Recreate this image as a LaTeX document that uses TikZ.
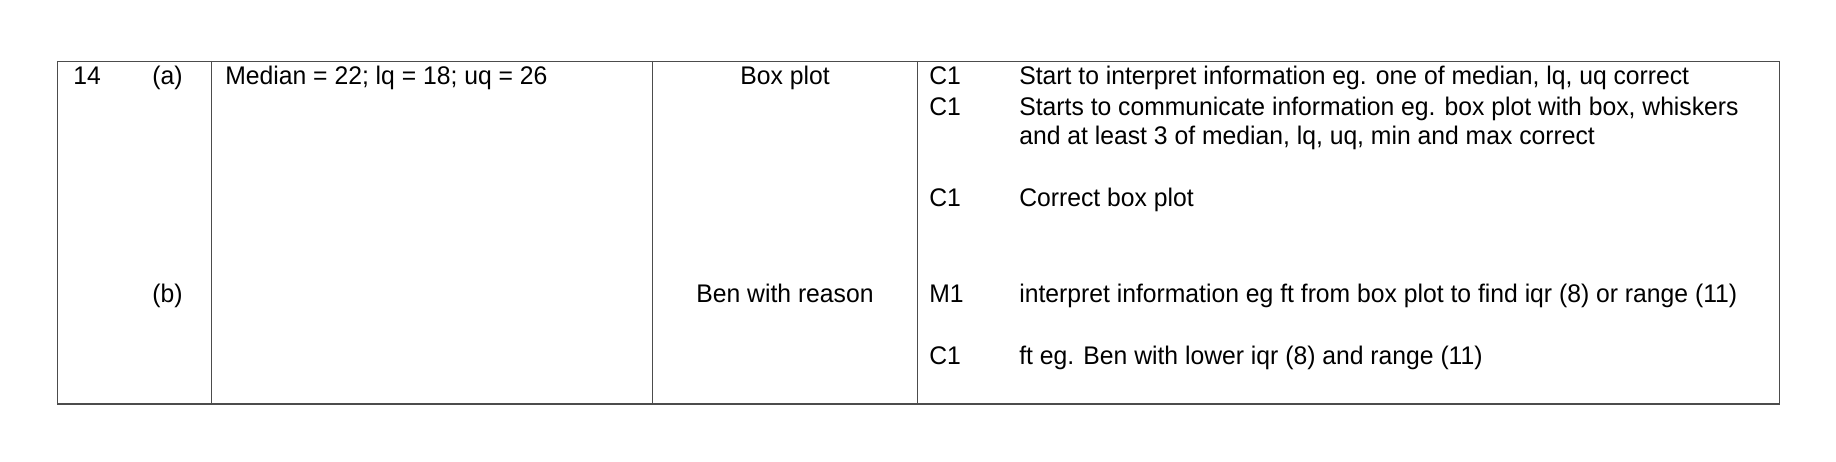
\documentclass[tikz,border=0pt]{standalone}
\usepackage{fontspec}
\setmainfont{Liberation Sans}[FakeStretch=0.97]
\begin{document}
\begin{tikzpicture}[x=0.02cm,y=-0.02cm]
        \tikzset{every node/.style={inner sep=0pt,anchor=base west,font=\fontsize{14.5pt}{17pt}\selectfont},
          rule/.style={draw=black!70,line width=0.5pt}}
        \useasboundingbox (0,0) rectangle (1836,462);
        % frame and column rules
        \draw [rule] (57,61) rectangle (1779,404);
        \draw [rule,line width=1pt] (57,404) -- (1779,404);
        \foreach \xc in {211,652,917}
          \draw [rule] (\xc,61) -- (\xc,404);
        % question and part labels
        \node (q) at (73,85) {14};
        \node (pa) at (152,85) {(a)};
        \node (pb) at (152,303) {(b)};
        \node (ans) at (225,85) {Median = 22; lq = 18; uq = 26};
        \node [anchor=base] (bp) at (785,85) {Box plot};
        \node [anchor=base] (ben) at (785,303) {Ben with reason};
        % marks
        \node (m1) at (929,85) {C1};
        \node (m2) at (929,116) {C1};
        \node (m3) at (929,207) {C1};
        \node (m4) at (929,303) {M1};
        \node (m5) at (929,365) {C1};
        \node (t1) at (1019,85) {Start to interpret information eg. one of median, lq, uq correct};
        \node (t2) at (1019,116) {Starts to communicate information eg. box plot with box, whiskers};
        \node (t2b) at (1019,145) {and at least 3 of median, lq, uq, min and max correct};
        \node (t3) at (1019,207) {Correct box plot};
        \node (t4) at (1019,303) {interpret information eg ft from box plot to find iqr (8) or range (11)};
        \node (t5) at (1019,365) {ft eg. Ben with lower iqr (8) and range (11)};
\end{tikzpicture}
\end{document}
